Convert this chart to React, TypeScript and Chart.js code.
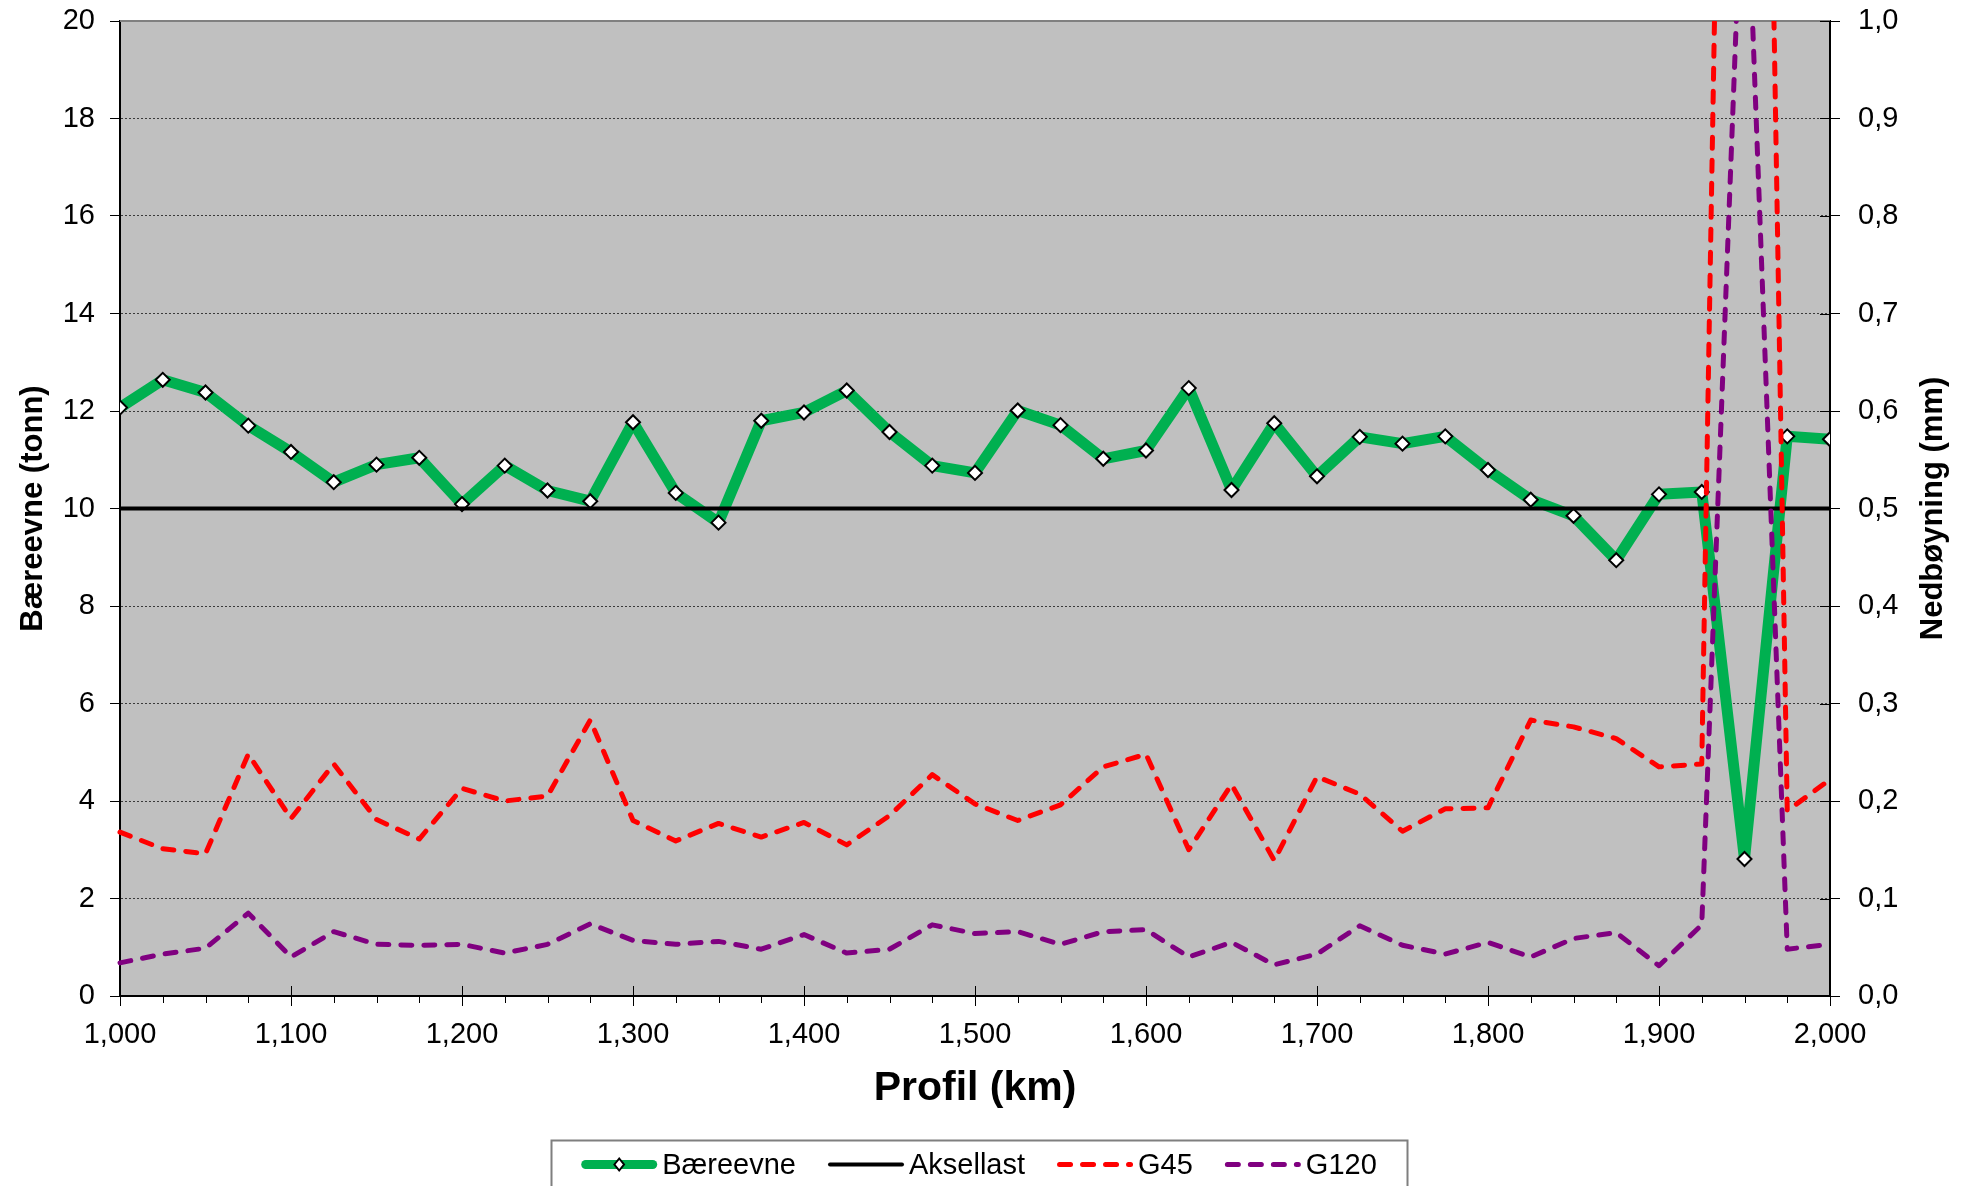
import React, { useEffect, useRef } from 'react';
import { Chart, registerables } from 'chart.js';

Chart.register(...registerables);

// ---------- data ----------
const profilKm = [
  1000, 1025, 1050, 1075, 1100, 1125, 1150, 1175, 1200, 1225, 1250, 1275, 1300, 1325,
  1350, 1375, 1400, 1425, 1450, 1475, 1500, 1525, 1550, 1575, 1600, 1625, 1650, 1675,
  1700, 1725, 1750, 1775, 1800, 1825, 1850, 1875, 1900, 1925, 1950, 1975, 2000,
];

const baereevne = [
  12.07, 12.64, 12.38, 11.7, 11.16, 10.54, 10.9, 11.04, 10.09, 10.88, 10.37, 10.15, 11.77, 10.32,
  9.71, 11.8, 11.97, 12.42, 11.57, 10.88, 10.73, 12.01, 11.71, 11.02, 11.19, 12.47, 10.38, 11.75,
  10.66, 11.47, 11.33, 11.48, 10.79, 10.18, 9.85, 8.94, 10.29, 10.34, 2.81, 11.48, 11.42,
];

const aksellastKm = [1000, 2000];
const aksellast = [10, 10];

const g45 = [
  0.168, 0.151, 0.146, 0.248, 0.182, 0.238, 0.181, 0.161, 0.213, 0.2, 0.205, 0.283, 0.18, 0.159,
  0.177, 0.163, 0.178, 0.155, 0.185, 0.227, 0.197, 0.18, 0.196, 0.235, 0.248, 0.15, 0.217, 0.139,
  0.225, 0.207, 0.169, 0.192, 0.193, 0.283, 0.276, 0.264, 0.235, 0.238, 2.8, 0.19, 0.222,
];

const g120 = [
  0.034, 0.043, 0.049, 0.085, 0.04, 0.066, 0.053, 0.052, 0.053, 0.044, 0.053, 0.074, 0.057, 0.053,
  0.056, 0.048, 0.063, 0.044, 0.048, 0.073, 0.064, 0.066, 0.053, 0.066, 0.068, 0.04, 0.055, 0.032,
  0.043, 0.072, 0.052, 0.043, 0.055, 0.04, 0.059, 0.065, 0.031, 0.073, 1.22, 0.048, 0.053,
];

const seriesLabels = ['Bæreevne', 'Aksellast', 'G45', 'G120'];

const xTickValues = [1000, 1100, 1200, 1300, 1400, 1500, 1600, 1700, 1800, 1900, 2000];
const xTickLabels = ['1,000', '1,100', '1,200', '1,300', '1,400', '1,500', '1,600', '1,700', '1,800', '1,900', '2,000'];

const yLeftTickValues = [0, 2, 4, 6, 8, 10, 12, 14, 16, 18, 20];
const yLeftTickLabels = ['0', '2', '4', '6', '8', '10', '12', '14', '16', '18', '20'];

const yRightTickValues = [0, 0.1, 0.2, 0.3, 0.4, 0.5, 0.6, 0.7, 0.8, 0.9, 1.0];
const yRightTickLabels = ['0,0', '0,1', '0,2', '0,3', '0,4', '0,5', '0,6', '0,7', '0,8', '0,9', '1,0'];

const xTitle = 'Profil (km)';
const yLeftTitle = 'Bæreevne (tonn)';
const yRightTitle = 'Nedbøyning (mm)';

// ---------- styling ----------
const FONT = '"Liberation Sans", Arial, Helvetica, sans-serif';
const W = 1968;
const H = 1186;

const decorPlugin = {
  id: 'decor',
  beforeDraw(chart: any) {
    const { ctx, chartArea: a } = chart;
    ctx.save();
    ctx.fillStyle = '#ffffff';
    ctx.fillRect(0, 0, chart.width, chart.height);
    ctx.fillStyle = '#C0C0C0';
    ctx.fillRect(a.left, a.top, a.right - a.left, a.bottom - a.top);
    ctx.restore();
  },
  beforeDatasetsDraw(chart: any) {
    const { ctx, chartArea: a } = chart;
    ctx.save();
    ctx.strokeStyle = '#808080';
    ctx.lineWidth = 2;
    ctx.beginPath();
    ctx.moveTo(a.left, a.top);
    ctx.lineTo(a.right, a.top);
    ctx.stroke();
    ctx.restore();
  },
  afterDraw(chart: any) {
    const { ctx, chartArea: a } = chart;
    const xs = chart.scales.x;
    const y1 = chart.scales.y1;
    ctx.save();
    ctx.strokeStyle = '#000';
    ctx.lineWidth = 1;
    // minor x ticks at every measuring point
    profilKm.forEach((v) => {
      if (xTickValues.includes(v)) return;
      const px = Math.round(xs.getPixelForValue(v)) + 0.5;
      ctx.beginPath();
      ctx.moveTo(px, a.bottom);
      ctx.lineTo(px, a.bottom + 7);
      ctx.stroke();
    });
    // inner part of major x ticks
    xTickValues.forEach((v) => {
      const px = Math.round(xs.getPixelForValue(v)) + 0.5;
      ctx.beginPath();
      ctx.moveTo(px, a.bottom - 10);
      ctx.lineTo(px, a.bottom);
      ctx.stroke();
    });
    // inner part of right ticks
    yRightTickValues.forEach((v) => {
      const py = Math.round(y1.getPixelForValue(v)) + 0.5;
      ctx.beginPath();
      ctx.moveTo(a.right - 10, py);
      ctx.lineTo(a.right, py);
      ctx.stroke();
    });
    // right axis title, reading bottom to top
    ctx.save();
    ctx.translate(y1.left + 103, (a.top + a.bottom) / 2);
    ctx.rotate(-Math.PI / 2);
    ctx.font = `bold 31px ${FONT}`;
    ctx.fillStyle = '#000';
    ctx.textAlign = 'center';
    ctx.textBaseline = 'middle';
    ctx.fillText(yRightTitle, 0, 0);
    ctx.restore();

    // legend
    const datasets = chart.data.datasets;
    ctx.font = `29px ${FONT}`;
    const sampleW = 76;
    const gapText = 5;
    const gapItem = 32;
    const widths = datasets.map((d: any) => sampleW + gapText + ctx.measureText(d.label).width);
    const total = widths.reduce((s: number, w: number) => s + w, 0) + gapItem * (datasets.length - 1);
    const cx = (a.left + a.right) / 2 + 4;
    const padX = 30;
    const boxLeft = Math.round(cx - total / 2 - padX) + 0.5;
    const boxRight = Math.round(cx + total / 2 + padX) + 0.5;
    const boxTop = chart.height - 45.5;
    ctx.strokeStyle = '#7f7f7f';
    ctx.lineWidth = 2;
    ctx.strokeRect(boxLeft, boxTop, boxRight - boxLeft, 100);
    const cy = boxTop + 24;
    let x = cx - total / 2;
    datasets.forEach((d: any, i: number) => {
      const lw = Math.min(d.borderWidth, 9);
      ctx.save();
      ctx.strokeStyle = d.borderColor;
      ctx.lineWidth = lw;
      ctx.lineCap = 'round';
      ctx.setLineDash(d.borderDash || []);
      ctx.beginPath();
      ctx.moveTo(x + lw / 2, cy);
      ctx.lineTo(x + sampleW - lw / 2, cy);
      ctx.stroke();
      ctx.setLineDash([]);
      if (d.pointRadius && d.pointRadius > 0) {
        const r = 6;
        const mx = x + sampleW / 2;
        ctx.beginPath();
        ctx.moveTo(mx - r * 0.8, cy);
        ctx.lineTo(mx, cy - r);
        ctx.lineTo(mx + r * 0.8, cy);
        ctx.lineTo(mx, cy + r);
        ctx.closePath();
        ctx.fillStyle = '#fff';
        ctx.fill();
        ctx.lineWidth = 2;
        ctx.strokeStyle = '#000';
        ctx.stroke();
      }
      ctx.restore();
      ctx.fillStyle = '#000';
      ctx.textAlign = 'left';
      ctx.textBaseline = 'middle';
      ctx.fillText(d.label, x + sampleW + gapText, cy + 1);
      x += widths[i] + gapItem;
    });
    ctx.restore();
  },
};

const noPad = (s: any) => {
  s.paddingTop = 0;
  s.paddingBottom = 0;
  s.paddingLeft = 0;
  s.paddingRight = 0;
};

export default function App() {
  const ref = useRef<HTMLCanvasElement | null>(null);

  useEffect(() => {
    document.body.style.margin = '0';
    const canvas = ref.current;
    if (!canvas) return;

    const tickFont = { family: FONT, size: 29 };

    const chart = new Chart(canvas, {
      type: 'line',
      data: {
        datasets: [
          {
            label: seriesLabels[0],
            data: profilKm.map((x, i) => ({ x, y: baereevne[i] })),
            borderColor: '#00B050',
            backgroundColor: '#00B050',
            borderWidth: 11,
            borderJoinStyle: 'round',
            pointStyle: 'rectRot',
            pointRadius: 7,
            pointBackgroundColor: '#ffffff',
            pointBorderColor: '#000000',
            pointBorderWidth: 2,
            yAxisID: 'y',
            order: 4,
            tension: 0,
          },
          {
            label: seriesLabels[1],
            data: aksellastKm.map((x, i) => ({ x, y: aksellast[i] })),
            borderColor: '#000000',
            backgroundColor: '#000000',
            borderWidth: 4,
            pointRadius: 0,
            yAxisID: 'y',
            order: 3,
          },
          {
            label: seriesLabels[2],
            data: profilKm.map((x, i) => ({ x, y: g45[i] })),
            borderColor: '#FF0000',
            backgroundColor: '#FF0000',
            borderWidth: 5,
            borderDash: [11, 12],
            borderCapStyle: 'round',
            borderJoinStyle: 'round',
            pointRadius: 0,
            yAxisID: 'y1',
            order: 2,
            clip: { left: 10, right: 10, top: 0, bottom: 10 },
          },
          {
            label: seriesLabels[3],
            data: profilKm.map((x, i) => ({ x, y: g120[i] })),
            borderColor: '#800080',
            backgroundColor: '#800080',
            borderWidth: 5,
            borderDash: [11, 12],
            borderCapStyle: 'round',
            borderJoinStyle: 'round',
            pointRadius: 0,
            yAxisID: 'y1',
            order: 1,
            clip: { left: 10, right: 10, top: 0, bottom: 10 },
          },
        ] as any,
      },
      options: {
        animation: false,
        responsive: false,
        devicePixelRatio: 1,
        layout: { padding: { top: 21, left: 0, right: 0, bottom: 70 } },
        plugins: {
          legend: { display: false },
          tooltip: { enabled: false },
        },
        events: [],
        scales: {
          x: {
            type: 'linear',
            position: 'bottom',
            min: 1000,
            max: 2000,
            afterBuildTicks: (s: any) => {
              s.ticks = xTickValues.map((v) => ({ value: v }));
            },
            afterFit: (s: any) => {
              s.height = 120;
              noPad(s);
            },
            ticks: {
              font: tickFont,
              color: '#000',
              padding: 12,
              maxRotation: 0,
              autoSkip: false,
              callback: (_v: any, i: number) => xTickLabels[i],
            },
            grid: {
              display: true,
              drawOnChartArea: false,
              drawTicks: true,
              tickLength: 10,
              color: '#000',
              lineWidth: 1,
            },
            border: { display: true, color: '#000', width: 2 },
            title: {
              display: true,
              text: xTitle,
              color: '#000',
              font: { family: FONT, size: 41, weight: 'bold', lineHeight: 1.2 },
              padding: { top: 0, bottom: 3 },
            },
          },
          y: {
            type: 'linear',
            position: 'left',
            min: 0,
            max: 20,
            afterBuildTicks: (s: any) => {
              s.ticks = yLeftTickValues.map((v) => ({ value: v }));
            },
            afterFit: (s: any) => {
              s.width = 120;
              noPad(s);
            },
            ticks: {
              font: tickFont,
              color: '#000',
              padding: 15,
              autoSkip: false,
              callback: (_v: any, i: number) => yLeftTickLabels[i],
            },
            grid: {
              display: true,
              drawOnChartArea: true,
              drawTicks: true,
              tickLength: 10,
              color: (c: any) => (c.tick && c.tick.value === 20 ? 'rgba(0,0,0,0)' : '#3a3a3a'),
              tickColor: '#000',
              lineWidth: 1,
            },
            border: { display: true, color: '#000', width: 2, dash: [2, 2] },
            title: {
              display: true,
              text: yLeftTitle,
              color: '#000',
              font: { family: FONT, size: 31, weight: 'bold', lineHeight: 1.2 },
              padding: { top: 14.5, bottom: 0 },
            },
          },
          y1: {
            type: 'linear',
            position: 'right',
            min: 0,
            max: 1,
            afterBuildTicks: (s: any) => {
              s.ticks = yRightTickValues.map((v) => ({ value: v }));
            },
            afterFit: (s: any) => {
              s.width = 138;
              noPad(s);
            },
            ticks: {
              font: tickFont,
              color: '#000',
              padding: 18,
              autoSkip: false,
              callback: (_v: any, i: number) => yRightTickLabels[i],
            },
            grid: {
              display: true,
              drawOnChartArea: false,
              drawTicks: true,
              tickLength: 10,
              color: '#000',
              lineWidth: 1,
            },
            border: { display: true, color: '#000', width: 2 },
            title: { display: false },
          },
        },
      } as any,
      plugins: [decorPlugin],
    });

    return () => {
      chart.destroy();
    };
  }, []);

  return (
    <div style={{ width: W, height: H, position: 'relative' }}>
      <canvas ref={ref} width={W} height={H} style={{ display: 'block', width: W, height: H }} />
    </div>
  );
}
